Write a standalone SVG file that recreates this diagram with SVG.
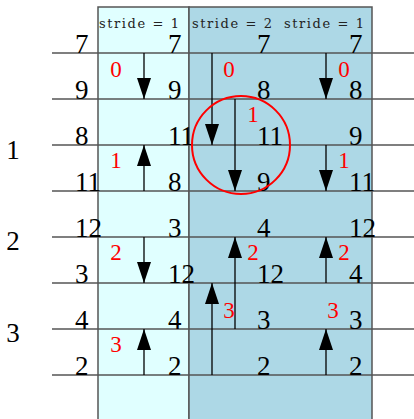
<svg xmlns="http://www.w3.org/2000/svg" width="414" height="419" viewBox="0 0 414 419">
<defs>
<marker id="ah" markerUnits="userSpaceOnUse" markerWidth="21" markerHeight="14" refX="21" refY="7" orient="auto"><path d="M0,0 L21,7 L0,14 Z" fill="#000"/></marker>
</defs>
<style>
.num{font-family:"Liberation Serif","DejaVu Serif",serif;font-size:27px;fill:#000}
.red{font-family:"Liberation Serif","DejaVu Serif",serif;font-size:23px;fill:#f00;text-anchor:middle}
.side{font-family:"Liberation Serif","DejaVu Serif",serif;font-size:27px;fill:#000;text-anchor:middle}
.hd{font-family:"DejaVu Serif","Liberation Serif",serif;font-size:13px;fill:#222}
.hl{stroke:#555;stroke-width:1.5}
.arr{stroke:#000;stroke-width:1.3;marker-end:url(#ah)}
</style>
<g id="panels">
<rect x="98" y="7" width="91" height="420" fill="#E0FFFF" stroke="#555" stroke-width="1.5"/>
<rect x="189" y="7" width="183" height="420" fill="#ADD8E6" stroke="#555" stroke-width="1.5"/>
</g>
<g id="headings">
<text class="hd" x="99" y="28" textLength="80" lengthAdjust="spacing">stride = 1</text>
<text class="hd" x="192" y="28" textLength="80" lengthAdjust="spacing">stride = 2</text>
<text class="hd" x="284" y="28" textLength="80" lengthAdjust="spacing">stride = 1</text>
</g>
<g id="lines">
<line class="hl" x1="52" y1="53" x2="414" y2="53"/>
<line class="hl" x1="52" y1="99" x2="414" y2="99"/>
<line class="hl" x1="52" y1="145" x2="414" y2="145"/>
<line class="hl" x1="52" y1="191" x2="414" y2="191"/>
<line class="hl" x1="52" y1="237" x2="414" y2="237"/>
<line class="hl" x1="52" y1="283" x2="414" y2="283"/>
<line class="hl" x1="52" y1="329" x2="414" y2="329"/>
<line class="hl" x1="52" y1="375" x2="414" y2="375"/>
</g>
<g id="side-labels">
<text class="side" x="13" y="159">1</text>
<text class="side" x="13" y="250">2</text>
<text class="side" x="13" y="342">3</text>
</g>
<g id="col1">
<text class="num" x="75" y="53">7</text>
<text class="num" x="75" y="99">9</text>
<text class="num" x="75" y="145">8</text>
<text class="num" x="75" y="191">11</text>
<text class="num" x="75" y="237">12</text>
<text class="num" x="75" y="283">3</text>
<text class="num" x="75" y="329">4</text>
<text class="num" x="75" y="375">2</text>
</g>
<g id="col2">
<text class="num" x="168" y="53">7</text>
<text class="num" x="168" y="99">9</text>
<text class="num" x="168" y="145">11</text>
<text class="num" x="168" y="191">8</text>
<text class="num" x="168" y="237">3</text>
<text class="num" x="168" y="283">12</text>
<text class="num" x="168" y="329">4</text>
<text class="num" x="168" y="375">2</text>
</g>
<g id="col3">
<text class="num" x="257" y="53">7</text>
<text class="num" x="257" y="99">8</text>
<text class="num" x="257" y="145">11</text>
<text class="num" x="257" y="191">9</text>
<text class="num" x="257" y="237">4</text>
<text class="num" x="257" y="283">12</text>
<text class="num" x="257" y="329">3</text>
<text class="num" x="257" y="375">2</text>
</g>
<g id="col4">
<text class="num" x="349" y="53">7</text>
<text class="num" x="349" y="99">8</text>
<text class="num" x="349" y="145">9</text>
<text class="num" x="349" y="191">11</text>
<text class="num" x="349" y="237">12</text>
<text class="num" x="349" y="283">4</text>
<text class="num" x="349" y="329">3</text>
<text class="num" x="349" y="375">2</text>
</g>
<g id="connectors">
<line class="arr" x1="144" y1="53" x2="144" y2="99"/>
<line class="arr" x1="144" y1="191" x2="144" y2="145"/>
<line class="arr" x1="144" y1="237" x2="144" y2="283"/>
<line class="arr" x1="144" y1="375" x2="144" y2="329"/>
<line class="arr" x1="212" y1="53" x2="212" y2="145"/>
<line class="arr" x1="235" y1="99" x2="235" y2="191"/>
<line class="arr" x1="235" y1="329" x2="235" y2="237"/>
<line class="arr" x1="212" y1="375" x2="212" y2="283"/>
<line class="arr" x1="326" y1="53" x2="326" y2="99"/>
<line class="arr" x1="326" y1="145" x2="326" y2="191"/>
<line class="arr" x1="326" y1="283" x2="326" y2="237"/>
<line class="arr" x1="326" y1="375" x2="326" y2="329"/>
</g>
<g id="step-labels">
<text class="red" x="116" y="77">0</text>
<text class="red" x="116" y="168">1</text>
<text class="red" x="116" y="260">2</text>
<text class="red" x="116" y="352">3</text>
<text class="red" x="229" y="77">0</text>
<text class="red" x="253" y="122">1</text>
<text class="red" x="253" y="260">2</text>
<text class="red" x="229" y="318">3</text>
<text class="red" x="344" y="77">0</text>
<text class="red" x="344" y="168">1</text>
<text class="red" x="344" y="260">2</text>
<text class="red" x="333" y="318">3</text>
</g>
<g id="highlight">
<circle cx="241" cy="145" r="49" fill="none" stroke="#f00" stroke-width="2"/>
</g>
</svg>
